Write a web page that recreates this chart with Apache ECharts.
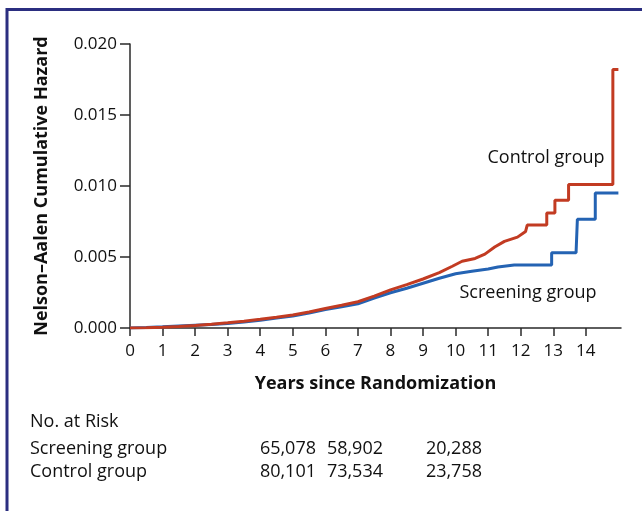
<!DOCTYPE html>
<html>
<head>
<meta charset="utf-8">
<script src="https://cdn.jsdelivr.net/npm/echarts@6/dist/echarts.min.js"></script>
<style>
html,body{margin:0;padding:0;background:#fff;}
#chart{width:642px;height:511px;}
</style>
</head>
<body>
<div id="chart"></div>
<script>
// ---- data ----
var xTicks = [0,1,2,3,4,5,6,7,8,9,10,11,12,13,14];
var yTicks = [0, 0.005, 0.010, 0.015, 0.020];

var controlData = [
  [0,0],[0.5,0.00002],[1,0.00005],[1.5,0.0001],[2,0.00018],[2.5,0.00027],[3,0.00037],
  [3.5,0.00048],[4,0.00061],[4.5,0.00076],[5,0.00092],[5.5,0.00113],[6,0.00137],
  [6.5,0.0016],[7,0.00185],[7.5,0.00225],[8,0.00268],[8.5,0.00305],[9,0.00345],
  [9.5,0.0039],[9.9,0.00435],[10.2,0.0047],[10.6,0.0049],[10.9,0.0052],[11.2,0.0057],
  [11.5,0.0061],[11.9,0.0064],[12.15,0.0068],
  [12.2,0.0068],[12.2,0.00725],[12.8,0.00725],[12.8,0.0081],[13.05,0.0081],[13.05,0.009],
  [13.47,0.009],[13.47,0.0101],[14.83,0.0101],[14.83,0.0182],[15.0,0.0182]
];
var screeningData = [
  [0,0],[0.5,0.00003],[1,0.00008],[1.5,0.00014],[2,0.0002],[2.5,0.00025],[3,0.00032],
  [3.5,0.00043],[4,0.00055],[4.5,0.0007],[5,0.00085],[5.5,0.00105],[6,0.0013],
  [6.5,0.0015],[7,0.0017],[7.5,0.0021],[8,0.00248],[8.5,0.0028],[9,0.00315],
  [9.5,0.0035],[10,0.00382],[10.5,0.004],[11,0.00415],[11.3,0.0043],[11.8,0.00444],
  [12.95,0.00444],[12.95,0.0053],[13.7,0.0053],[13.74,0.00765],[14.29,0.00765],
  [14.29,0.0095],[15.0,0.0095]
];

var riskTitle = 'No. at Risk';
var riskGroups = ['Screening group', 'Control group'];
var riskScreening = ['65,078', '58,902', '20,288'];
var riskControl = ['80,101', '73,534', '23,758'];

var seriesLabels = ['Control group', 'Screening group'];

// ---- chart ----
var FONT = 'Open Sans';
var chart = echarts.init(document.getElementById('chart'), null, {renderer:'canvas'});

var riskRows = [riskScreening, riskControl];
var riskColsRight = [316, 383, 482];
var rowY = [449, 472];
var graphics = [
  {type:'rect', shape:{x:7, y:9.5, width:700, height:600},
   style:{fill:'none', stroke:'#2b2e80', lineWidth:3}, silent:true, z:10},
  {type:'text', left:30, top:413, style:{text:riskTitle, font:'18px "'+FONT+'"', fill:'#111'}}
];
riskGroups.forEach(function(g, i){
  graphics.push({type:'text', x:30, y:rowY[i], style:{text:g, font:'18px "'+FONT+'"', fill:'#111', textVerticalAlign:'middle'}});
  riskRows[i].forEach(function(v, j){
    graphics.push({type:'text', x:riskColsRight[j], y:rowY[i], style:{text:v, font:'18px "'+FONT+'"', fill:'#111', textAlign:'right', textVerticalAlign:'middle'}});
  });
});

var axisLineStyle = {color:'#2a2a2a', width:1.5};

chart.setOption({
  animation:false,
  backgroundColor:'#fff',
  grid:{left:130, top:44, width:491, height:284, containLabel:false},
  xAxis:{
    type:'value', min:0, max:15.08,
    name:'Years since Randomization', nameLocation:'middle', nameGap:47,
    nameTextStyle:{fontFamily:FONT, fontSize:18, fontWeight:'bold', color:'#111'},
    axisLine:{show:true, onZero:false, lineStyle:axisLineStyle},
    axisTick:{show:true, inside:false, length:8, lineStyle:axisLineStyle, customValues:xTicks},
    axisLabel:{fontFamily:FONT, fontSize:17, color:'#111', margin:15, customValues:xTicks},
    splitLine:{show:false}
  },
  yAxis:{
    type:'value', min:0, max:0.02, interval:0.005,
    name:'Nelson\u2013Aalen Cumulative Hazard', nameLocation:'middle', nameGap:79, nameRotate:90,
    nameTextStyle:{fontFamily:FONT, fontSize:18, fontWeight:'bold', color:'#111'},
    axisLine:{show:true, lineStyle:axisLineStyle},
    axisTick:{show:true, inside:false, length:10, lineStyle:axisLineStyle},
    axisLabel:{fontFamily:FONT, fontSize:17, color:'#111', margin:13,
      formatter:function(v){return v.toFixed(3);}},
    splitLine:{show:false}
  },
  series:[
    {name:'Screening group', type:'line', data:screeningData, showSymbol:false, symbol:'none',
     lineStyle:{color:'#2463b3', width:3}, z:3},
    {name:'Control group', type:'line', data:controlData, showSymbol:false, symbol:'none',
     lineStyle:{color:'#c23b22', width:3}, z:4}
  ],
  graphic:graphics.concat([
    {type:'text', x:546, y:158, style:{text:seriesLabels[0], font:'18px "'+FONT+'"', fill:'#111', textAlign:'center', textVerticalAlign:'middle'}},
    {type:'text', x:528, y:293, style:{text:seriesLabels[1], font:'18px "'+FONT+'"', fill:'#111', textAlign:'center', textVerticalAlign:'middle'}}
  ])
});
</script>
</body>
</html>
